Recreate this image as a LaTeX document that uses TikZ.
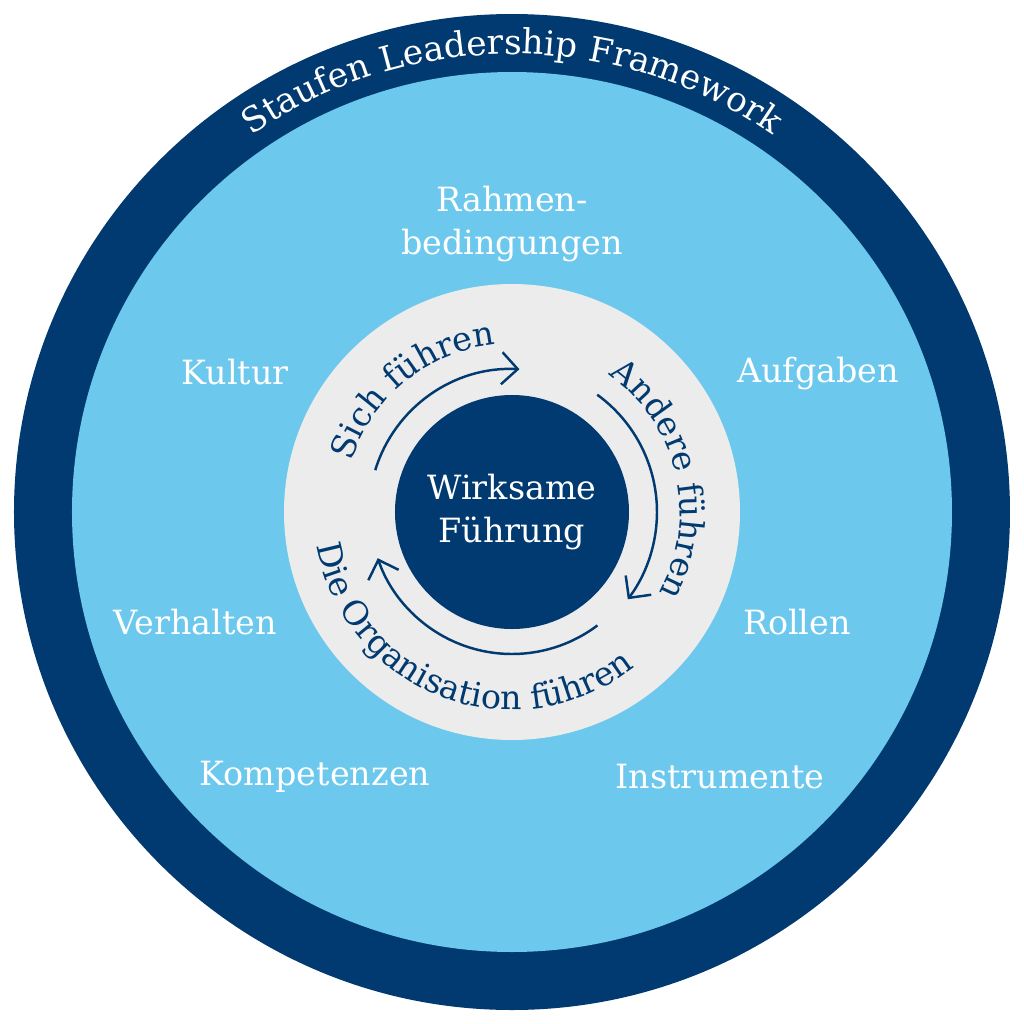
\documentclass[tikz,border=0pt]{standalone}
\usepackage{fontspec}
\setmainfont{DejaVu Serif}
\usetikzlibrary{decorations.text,arrows.meta}
\definecolor{darkblue}{RGB}{0,58,112}
\definecolor{lightblue}{RGB}{108,200,236}
\definecolor{lightgray}{RGB}{236,236,236}
\tikzset{
    label/.style={text=white,font=\fontsize{9.5}{12}\selectfont,align=center},
    cyclearrow/.style={darkblue,line width=.7pt,-{Straight Barb[length=1.6mm,width=3.2mm]}}
}
\begin{document}
\begin{tikzpicture}
    \useasboundingbox (-5.12,-5.12) rectangle (5.12,5.12);
    % Rings
    \fill[darkblue] (0,0) circle [radius=4.98];
    \fill[lightblue] (0,0) circle [radius=4.40];
    \fill[lightgray] (0,0) circle [radius=2.28];
    \fill[darkblue] (0,0) circle [radius=1.17];
    % Framework title
    \path[decorate,decoration={text along path,text align=center,
        text={|\color{white}\fontsize{9.8}{12}\selectfont|Staufen Leadership Framework}}]
        (130:4.58) arc [start angle=130,end angle=50,radius=4.58];
    % Outer labels
    \node[label] (rahmen) at (0,2.88) {Rahmen-\\bedingungen};
    \node[label] (kultur) at (-2.77,1.40) {Kultur};
    \node[label] (aufgaben) at (3.06,1.38) {Aufgaben};
    \node[label] (verhalten) at (-3.17,-1.10) {Verhalten};
    \node[label] (rollen) at (2.85,-1.10) {Rollen};
    \node[label] (kompetenzen) at (-1.97,-2.65) {Kompetenzen};
    \node[label] (instrumente) at (2.08,-2.65) {Instrumente};
    \node[label] (wirksam) at (0,0) {Wirksame\\Führung};
    % Inner cycle
    \path[decorate,decoration={text along path,text align=center,
        text={|\color{darkblue}\fontsize{9.5}{12}\selectfont|Sich führen}}]
        (170:1.68) arc [start angle=170,end angle=88,radius=1.68];
    \path[decorate,decoration={text along path,text align=center,
        text={|\color{darkblue}\fontsize{9.5}{12}\selectfont|Andere führen}}]
        (60:1.68) arc [start angle=60,end angle=-34,radius=1.68];
    \path[decorate,decoration={text along path,text align=center,
        text={|\color{darkblue}\fontsize{9.5}{12}\selectfont|Die Organisation führen}}]
        (183:1.98) arc [start angle=183,end angle=315,radius=1.98];
    \draw[cyclearrow] (163:1.43) arc [start angle=163,end angle=87,radius=1.43];
    \draw[cyclearrow] (54:1.45) arc [start angle=54,end angle=-37,radius=1.45];
    \draw[cyclearrow] (-53:1.42) arc [start angle=-53,end angle=-161,radius=1.42];
\end{tikzpicture}
\end{document}
